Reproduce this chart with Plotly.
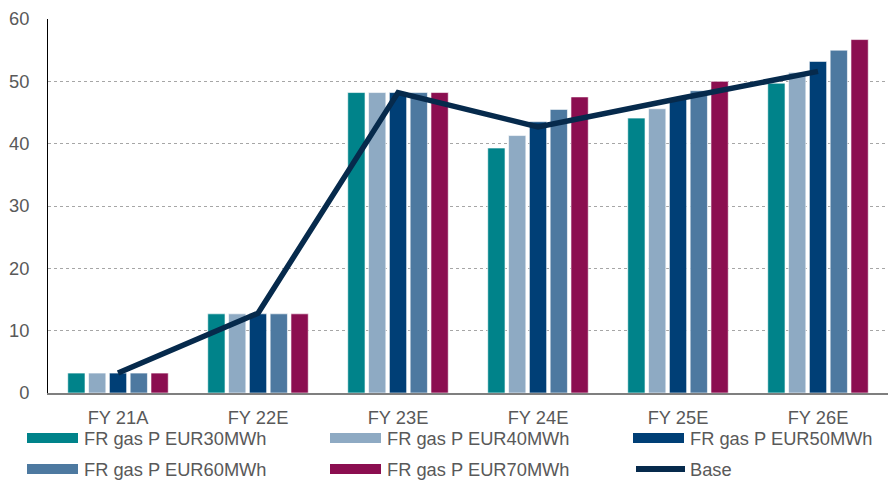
import plotly.graph_objects as go

categories = ["FY 21A", "FY 22E", "FY 23E", "FY 24E", "FY 25E", "FY 26E"]
series_names = ["FR gas P EUR30MWh", "FR gas P EUR40MWh", "FR gas P EUR50MWh",
                "FR gas P EUR60MWh", "FR gas P EUR70MWh"]
p30 = [3.2, 12.7, 48.2, 39.3, 44.1, 49.7]
p40 = [3.2, 12.7, 48.2, 41.3, 45.6, 51.4]
p50 = [3.2, 12.7, 48.2, 43.5, 47.1, 53.2]
p60 = [3.2, 12.7, 48.2, 45.5, 48.5, 55.0]
p70 = [3.2, 12.7, 48.2, 47.5, 50.0, 56.7]
base = [3.2, 12.8, 48.2, 42.7, 47.2, 51.6]
base_name = "Base"
yticks = [0, 10, 20, 30, 40, 50, 60]

colors = ["#00838a", "#8eaac3", "#003f76", "#4d79a0", "#8b0e50"]
base_color = "#062a4c"
font_fam = "Liberation Sans, Arial, sans-serif"
text_col = "#595959"
fs = 18.3

fig = go.Figure()
for name, vals, col in zip(series_names, [p30, p40, p50, p60, p70], colors):
    fig.add_trace(go.Bar(x=categories, y=vals, name=name, marker_color=col,
                         marker_line=dict(color="rgba(255,255,255,0.6)", width=1),
                         showlegend=False))
fig.add_trace(go.Scatter(x=categories, y=base, name=base_name, mode="lines",
                         line=dict(color=base_color, width=5.5), showlegend=False))

# manual legend (paper coordinates)
W, H = 888, 481
ml, mr, mt, mb = 48, 0, 19, 88
pw, ph = W - ml - mr, H - mt - mb

def px_to_paper(x, y):
    return (x - ml) / pw, (H - mb - y) / ph

legend_items = [(series_names[0], colors[0], "bar"), (series_names[1], colors[1], "bar"),
                (series_names[2], colors[2], "bar"), (series_names[3], colors[3], "bar"),
                (series_names[4], colors[4], "bar"), (base_name, base_color, "line")]
col_x = [27, 330, 633]
row_y = [438, 469]
for i, (name, col, kind) in enumerate(legend_items):
    cx = col_x[i % 3]
    cy = row_y[i // 3]
    if kind == "bar":
        x0, y0 = px_to_paper(cx, cy - 5)
        x1, y1 = px_to_paper(cx + 51, cy + 5)
        fig.add_shape(type="rect", xref="paper", yref="paper", x0=x0, x1=x1, y0=y0, y1=y1,
                      fillcolor=col, line=dict(width=0))
    else:
        x0, y0 = px_to_paper(cx + 3, cy)
        x1, y1 = px_to_paper(cx + 52, cy)
        fig.add_shape(type="line", xref="paper", yref="paper", x0=x0, x1=x1, y0=y0, y1=y1,
                      line=dict(color=col, width=6), layer="above")
    tx, ty = px_to_paper(cx + 55, cy)
    fig.add_annotation(x=tx, y=ty, xref="paper", yref="paper", text=name, showarrow=False,
                       xanchor="left", yanchor="middle",
                       font=dict(family=font_fam, size=fs, color=text_col))

fig.update_layout(
    width=W, height=H,
    margin=dict(l=ml, r=mr, t=mt, b=mb),
    paper_bgcolor="white", plot_bgcolor="white",
    barmode="group", bargap=0.257, bargroupgap=0.17,
    font=dict(family=font_fam, size=fs, color=text_col),
    showlegend=False,
)
fig.update_yaxes(range=[0, 60], tickvals=yticks, showgrid=True, gridcolor="#a6a6a6",
                 griddash="dot", gridwidth=1, showline=True, linecolor="#000000", linewidth=1,
                 zeroline=False, ticks="", ticklabelstandoff=14,
                 tickfont=dict(family=font_fam, size=fs, color=text_col))
fig.update_xaxes(showline=True, linecolor="#7f7f7f", linewidth=2, ticks="",
                 ticklabelstandoff=7,
                 tickfont=dict(family=font_fam, size=fs, color=text_col))

fig.write_html("out.html")
